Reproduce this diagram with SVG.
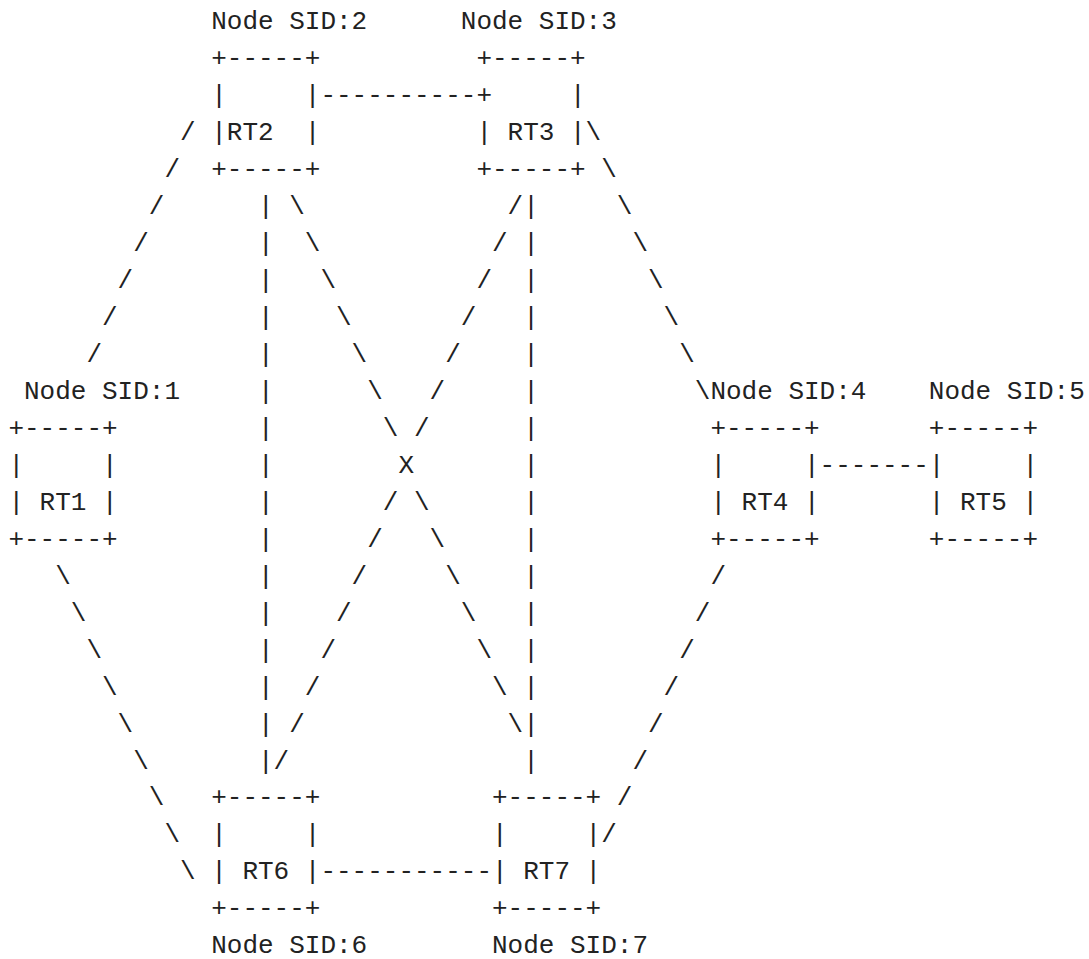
<svg xmlns="http://www.w3.org/2000/svg" width="1089" height="959" viewBox="0 0 1089 959" xml:space="preserve">
<style>
text{font-family:"Liberation Mono","DejaVu Sans Mono",monospace;font-size:26px;fill:#222;white-space:pre}
</style>
<rect width="1089" height="959" fill="#fff"/>
<g id="RT1">
<text x="24" y="398.9">Node SID:1</text>
<text x="8.4" y="435.86">+-----+</text>
<text x="8.4" y="472.82">|     |</text>
<text x="8.4" y="509.78">| RT1 |</text>
<text x="8.4" y="546.74">+-----+</text>
</g>
<g id="RT2">
<text x="211.2" y="29.3">Node SID:2</text>
<text x="211.2" y="66.26">+-----+</text>
<text x="211.2" y="103.22">|     |</text>
<text x="211.2" y="140.18">|RT2  |</text>
<text x="211.2" y="177.14">+-----+</text>
</g>
<g id="RT3">
<text x="460.8" y="29.3">Node SID:3</text>
<text x="476.4" y="66.26">+-----+</text>
<text x="476.4" y="103.22">+     |</text>
<text x="476.4" y="140.18">| RT3 |</text>
<text x="476.4" y="177.14">+-----+</text>
</g>
<g id="RT4">
<text x="710.4" y="398.9">Node SID:4</text>
<text x="710.4" y="435.86">+-----+</text>
<text x="710.4" y="472.82">|     |</text>
<text x="710.4" y="509.78">| RT4 |</text>
<text x="710.4" y="546.74">+-----+</text>
</g>
<g id="RT5">
<text x="928.8" y="398.9">Node SID:5</text>
<text x="928.8" y="435.86">+-----+</text>
<text x="928.8" y="472.82">|     |</text>
<text x="928.8" y="509.78">| RT5 |</text>
<text x="928.8" y="546.74">+-----+</text>
</g>
<g id="RT6">
<text x="211.2" y="805.46">+-----+</text>
<text x="211.2" y="842.42">|     |</text>
<text x="211.2" y="879.38">| RT6 |</text>
<text x="211.2" y="916.34">+-----+</text>
<text x="211.2" y="953.3">Node SID:6</text>
</g>
<g id="RT7">
<text x="492" y="805.46">+-----+</text>
<text x="492" y="842.42">|     |</text>
<text x="492" y="879.38">| RT7 |</text>
<text x="492" y="916.34">+-----+</text>
<text x="492" y="953.3">Node SID:7</text>
</g>
<g id="connectors">
<!-- RT2 - RT3 -->
<text x="320.4" y="103.22">----------</text>
<!-- RT4 - RT5 -->
<text x="819.6" y="472.82">-------</text>
<!-- RT6 - RT7 -->
<text x="320.4" y="879.38">-----------</text>
<!-- RT1 - RT2 -->
<text x="180" y="140.18">/</text>
<text x="164.4" y="177.14">/</text>
<text x="148.8" y="214.1">/</text>
<text x="133.2" y="251.06">/</text>
<text x="117.6" y="288.02">/</text>
<text x="102" y="324.98">/</text>
<text x="86.4" y="361.94">/</text>
<!-- RT1 - RT6 -->
<text x="55.2" y="583.7">\</text>
<text x="70.8" y="620.66">\</text>
<text x="86.4" y="657.62">\</text>
<text x="102" y="694.58">\</text>
<text x="117.6" y="731.54">\</text>
<text x="133.2" y="768.5">\</text>
<text x="148.8" y="805.46">\</text>
<text x="164.4" y="842.42">\</text>
<text x="180" y="879.38">\</text>
<!-- RT2 - RT6 -->
<text x="258" y="214.1">|</text>
<text x="258" y="251.06">|</text>
<text x="258" y="288.02">|</text>
<text x="258" y="324.98">|</text>
<text x="258" y="361.94">|</text>
<text x="258" y="398.9">|</text>
<text x="258" y="435.86">|</text>
<text x="258" y="472.82">|</text>
<text x="258" y="509.78">|</text>
<text x="258" y="546.74">|</text>
<text x="258" y="583.7">|</text>
<text x="258" y="620.66">|</text>
<text x="258" y="657.62">|</text>
<text x="258" y="694.58">|</text>
<text x="258" y="731.54">|</text>
<text x="258" y="768.5">|</text>
<!-- RT2 - RT7 -->
<text x="289.2" y="214.1">\</text>
<text x="304.8" y="251.06">\</text>
<text x="320.4" y="288.02">\</text>
<text x="336" y="324.98">\</text>
<text x="351.6" y="361.94">\</text>
<text x="367.2" y="398.9">\</text>
<text x="382.8" y="435.86">\</text>
<text x="398.4" y="472.82">X</text>
<text x="414" y="509.78">\</text>
<text x="429.6" y="546.74">\</text>
<text x="445.2" y="583.7">\</text>
<text x="460.8" y="620.66">\</text>
<text x="476.4" y="657.62">\</text>
<text x="492" y="694.58">\</text>
<text x="507.6" y="731.54">\</text>
<!-- RT3 - RT6 -->
<text x="507.6" y="214.1">/</text>
<text x="492" y="251.06">/</text>
<text x="476.4" y="288.02">/</text>
<text x="460.8" y="324.98">/</text>
<text x="445.2" y="361.94">/</text>
<text x="429.6" y="398.9">/</text>
<text x="414" y="435.86">/</text>
<text x="382.8" y="509.78">/</text>
<text x="367.2" y="546.74">/</text>
<text x="351.6" y="583.7">/</text>
<text x="336" y="620.66">/</text>
<text x="320.4" y="657.62">/</text>
<text x="304.8" y="694.58">/</text>
<text x="289.2" y="731.54">/</text>
<text x="273.6" y="768.5">/</text>
<!-- RT3 - RT7 -->
<text x="523.2" y="214.1">|</text>
<text x="523.2" y="251.06">|</text>
<text x="523.2" y="288.02">|</text>
<text x="523.2" y="324.98">|</text>
<text x="523.2" y="361.94">|</text>
<text x="523.2" y="398.9">|</text>
<text x="523.2" y="435.86">|</text>
<text x="523.2" y="472.82">|</text>
<text x="523.2" y="509.78">|</text>
<text x="523.2" y="546.74">|</text>
<text x="523.2" y="583.7">|</text>
<text x="523.2" y="620.66">|</text>
<text x="523.2" y="657.62">|</text>
<text x="523.2" y="694.58">|</text>
<text x="523.2" y="731.54">|</text>
<text x="523.2" y="768.5">|</text>
<!-- RT3 - RT4 -->
<text x="585.6" y="140.18">\</text>
<text x="601.2" y="177.14">\</text>
<text x="616.8" y="214.1">\</text>
<text x="632.4" y="251.06">\</text>
<text x="648" y="288.02">\</text>
<text x="663.6" y="324.98">\</text>
<text x="679.2" y="361.94">\</text>
<text x="694.8" y="398.9">\</text>
<!-- RT4 - RT7 -->
<text x="710.4" y="583.7">/</text>
<text x="694.8" y="620.66">/</text>
<text x="679.2" y="657.62">/</text>
<text x="663.6" y="694.58">/</text>
<text x="648" y="731.54">/</text>
<text x="632.4" y="768.5">/</text>
<text x="616.8" y="805.46">/</text>
<text x="601.2" y="842.42">/</text>
</g>
</svg>
